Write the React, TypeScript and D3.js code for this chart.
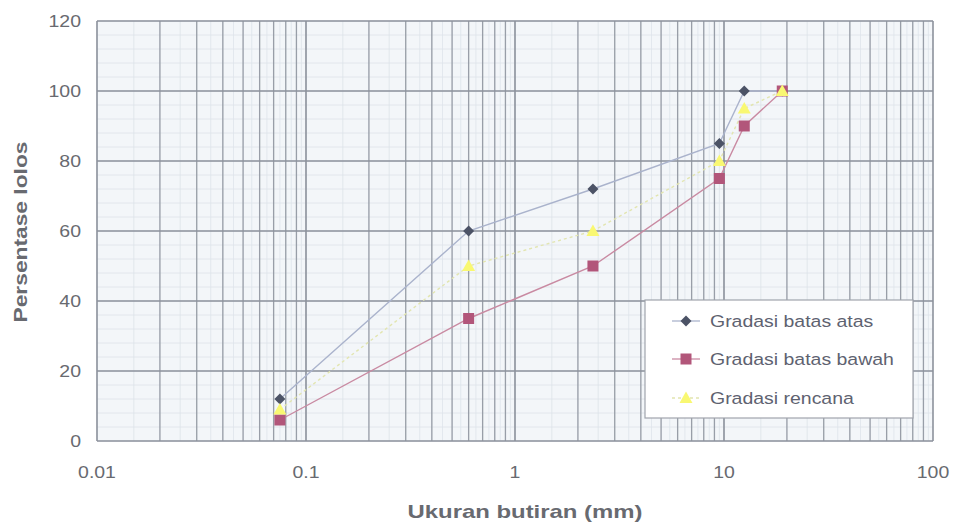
import React from 'react';
import { scaleLog, scaleLinear, line, range } from 'd3';

const W = 953;
const H = 522;

const sieveSizes = [0.075, 0.6, 2.36, 9.5, 12.5, 19];
const batasAtas = [12, 60, 72, 85, 100, 100];
const batasBawah = [6, 35, 50, 75, 90, 100];
const rencana = [9, 50, 60, 80, 95, 100];

const xTicks = [0.01, 0.1, 1, 10, 100];
const xTickLabels = ['0.01', '0.1', '1', '10', '100'];
const yTicks = [0, 20, 40, 60, 80, 100, 120];

const legendLabels = ['Gradasi batas atas', 'Gradasi batas bawah', 'Gradasi rencana'];

const AXIS_TEXT = '#686a70';
const GRID = '#8c929c';
const STRETCH = 1.18; // the scan is a bit wider than tall

// text squeezed/stretched horizontally like the scanned figure
function SText({ x, y, anchor = 'start', size, children, fill = AXIS_TEXT, weight }: any) {
  return (
    <text
      transform={`translate(${x},${y}) scale(${STRETCH},1)`}
      textAnchor={anchor}
      fontSize={size}
      fill={fill}
      fontWeight={weight}
    >
      {children}
    </text>
  );
}

export default function App() {
  const x = scaleLog().domain([0.01, 100]).range([97, 933]);
  const y = scaleLinear().domain([0, 120]).range([441, 21]);

  // log minor lines 2..9 in each decade
  const minorX: number[] = [];
  xTicks.slice(0, -1).forEach((d) => {
    for (let k = 2; k <= 9; k++) minorX.push(d * k);
  });
  // faint fine grid
  const fineX: number[] = [];
  xTicks.slice(0, -1).forEach((d) => {
    for (let k = 1; k < 10; k += 0.5) fineX.push(d * k);
  });
  const fineY = range(0, 121, 4);

  const series = [
    { name: legendLabels[0], values: batasAtas, stroke: '#aab3cc', dash: undefined, marker: 'diamond', fill: '#4c5366' },
    { name: legendLabels[1], values: batasBawah, stroke: '#c98aa2', dash: undefined, marker: 'square', fill: '#b2567a' },
    { name: legendLabels[2], values: rencana, stroke: '#e2e5b0', dash: '3 3', marker: 'triangle', fill: '#f9f872' },
  ];

  const lineGen = line<number>()
    .x((_, i) => x(sieveSizes[i]))
    .y((v) => y(v));

  const drawMarker = (kind: string, cx: number, cy: number, fill: string, key: string) => {
    if (kind === 'diamond') {
      const s = 5.5;
      return <path key={key} d={`M${cx},${cy - s}L${cx + s},${cy}L${cx},${cy + s}L${cx - s},${cy}Z`} fill={fill} />;
    }
    if (kind === 'square') {
      const s = 5.5;
      return <rect key={key} x={cx - s} y={cy - s} width={s * 2} height={s * 2} fill={fill} />;
    }
    const s = 6.5;
    return <path key={key} d={`M${cx},${cy - s}L${cx + s},${cy + s * 0.75}L${cx - s},${cy + s * 0.75}Z`} fill={fill} />;
  };

  const legend = { x: 645, y: 300, w: 268, h: 118 };
  const legendRows = [321, 359, 398];

  return (
    <svg width={W} height={H} style={{ position: 'absolute', left: 0, top: 0, fontFamily: 'Liberation Sans, Arial, sans-serif' }}>
      <rect x={0} y={0} width={W} height={H} fill="#ffffff" />
      <rect x={97} y={21} width={836} height={420} fill="#f3f6f9" />
      {fineX.map((d, i) => (
        <line key={`fx${i}`} x1={x(d)} x2={x(d)} y1={21} y2={441} stroke="#dde3ea" strokeWidth={0.8} />
      ))}
      {fineY.map((d) => (
        <line key={`fy${d}`} x1={97} x2={933} y1={y(d)} y2={y(d)} stroke="#dde3ea" strokeWidth={0.8} />
      ))}
      {minorX.map((d, i) => (
        <line key={`mx${i}`} x1={x(d)} x2={x(d)} y1={21} y2={441} stroke={GRID} strokeWidth={1.3} opacity={0.85} />
      ))}
      {xTicks.map((d) => (
        <line key={`Mx${d}`} x1={x(d)} x2={x(d)} y1={21} y2={441} stroke={GRID} strokeWidth={1.6} />
      ))}
      {yTicks.map((d) => (
        <line key={`My${d}`} x1={97} x2={933} y1={y(d)} y2={y(d)} stroke={GRID} strokeWidth={1.4} />
      ))}

      {series.map((s) => (
        <path key={`l${s.name}`} d={lineGen(s.values) || ''} fill="none" stroke={s.stroke} strokeWidth={1.4} strokeDasharray={s.dash} />
      ))}
      {series.map((s) =>
        s.values.map((v, i) => drawMarker(s.marker, x(sieveSizes[i]), y(v), s.fill, `${s.name}${i}`)),
      )}

      {yTicks.map((d) => (
        <SText key={`yt${d}`} x={81} y={y(d) + 6} anchor="end" size={16.5}>
          {d}
        </SText>
      ))}
      {xTicks.map((d, i) => (
        <SText key={`xt${d}`} x={x(d)} y={478} anchor="middle" size={16.5}>
          {xTickLabels[i]}
        </SText>
      ))}
      <text x={525} y={518} textAnchor="middle" fontSize={19} fontWeight="bold" fill={AXIS_TEXT} textLength={235} lengthAdjust="spacingAndGlyphs">
        Ukuran butiran (mm)
      </text>
      <text transform="translate(27,232) rotate(-90)" textAnchor="middle" fontSize={19} fontWeight="bold" fill={AXIS_TEXT} textLength={181} lengthAdjust="spacingAndGlyphs">
        Persentase lolos
      </text>

      <rect x={legend.x} y={legend.y} width={legend.w} height={legend.h} fill="#ffffff" stroke="#a0a4ac" strokeWidth={1.2} />
      {series.map((s, i) => (
        <g key={`lg${s.name}`}>
          <line x1={672} x2={700} y1={legendRows[i]} y2={legendRows[i]} stroke={s.stroke} strokeWidth={1.3} strokeDasharray={s.dash} />
          {drawMarker(s.marker, 686, legendRows[i], s.fill, `lgm${i}`)}
          <SText x={710} y={legendRows[i] + 6} size={16.5} fill="#5e6270">
            {s.name}
          </SText>
        </g>
      ))}
    </svg>
  );
}
